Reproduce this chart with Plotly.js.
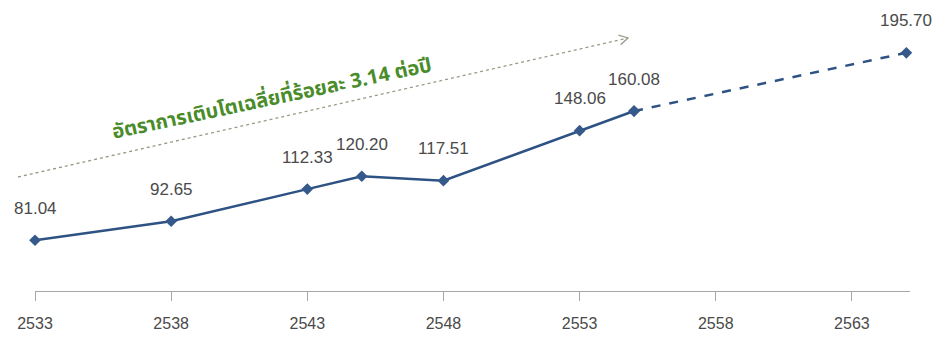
<!DOCTYPE html>
<html>
<head>
<meta charset="utf-8">
<script src="https://cdn.plot.ly/plotly-3.0.1.min.js"></script>
<style>
html,body{margin:0;padding:0;background:#fff;}
#chart{width:936px;height:338px;}
</style>
</head>
<body>
<div id="chart"></div>
<script>
// Actual data (Buddhist Era years)
var years = [2533, 2538, 2543, 2545, 2548, 2553, 2555];
var values = [81.04, 92.65, 112.33, 120.20, 117.51, 148.06, 160.08];
// Projection
var projYears = [2555, 2565];
var projValues = [160.08, 195.70];
// Labels
var labelYears = [2533, 2538, 2543, 2545, 2548, 2553, 2555, 2565];
var labelValues = [81.04, 92.65, 112.33, 120.20, 117.51, 148.06, 160.08, 195.70];
var tickYears = [2533, 2538, 2543, 2548, 2553, 2558, 2563];
var growthText = 'อัตราการเติบโตเฉลี่ยที่ร้อยละ 3.14 ต่อปี';

var W = 936, H = 338;
var M = {l: 35, r: 26, t: 0, b: 47};
var pw = W - M.l - M.r, ph = H - M.t - M.b;
function px(x) { return (x - M.l) / pw; }
function py(y) { return (H - M.b - y) / ph; }

var lineColor = '#2e5283';
var traces = [
  {
    x: years, y: values, type: 'scatter', mode: 'lines+markers',
    line: {color: lineColor, width: 2.5},
    marker: {symbol: 'diamond', size: 9, color: '#35598a'},
    hoverinfo: 'x+y', cliponaxis: false
  },
  {
    x: projYears, y: projValues, type: 'scatter', mode: 'lines+markers',
    line: {color: lineColor, width: 2.5, dash: 'dash'},
    marker: {symbol: 'diamond', size: 9, color: '#35598a'},
    hoverinfo: 'x+y', cliponaxis: false
  }
];

var annotations = labelYears.map(function (yr, i) {
  return {
    x: yr, y: labelValues[i], xref: 'x', yref: 'y',
    text: labelValues[i].toFixed(2), showarrow: false,
    yshift: 32,
    font: {family: 'Liberation Sans, Arial, sans-serif', size: 17, color: '#4a4a4a'}
  };
});
annotations.push({
  xref: 'paper', yref: 'paper', x: px(272), y: py(99),
  xanchor: 'center', yanchor: 'middle',
  text: '<b>' + growthText + '</b>', showarrow: false, textangle: -12,
  font: {family: 'Noto Sans Thai, Noto Sans, sans-serif', size: 20, color: '#4a8c2a'}
});

// arrow (dotted) geometry in pixels
var ax0 = 18, ay0 = 177, ax1 = 628, ay1 = 38;
var dx = ax1 - ax0, dy = ay1 - ay0, len = Math.sqrt(dx*dx + dy*dy);
var ux = -dx/len, uy = -dy/len, L = 10, c = Math.cos(Math.PI/6), s = Math.sin(Math.PI/6);
var h1x = ax1 + L*(ux*c - uy*s), h1y = ay1 + L*(ux*s + uy*c);
var h2x = ax1 + L*(ux*c + uy*s), h2y = ay1 + L*(-ux*s + uy*c);

var shapes = [
  {type: 'line', xref: 'paper', yref: 'paper', x0: px(ax0), y0: py(ay0), x1: px(ax1), y1: py(ay1),
   line: {color: '#9a9a86', width: 1.3, dash: 'dot'}},
  {type: 'path', xref: 'paper', yref: 'paper',
   path: 'M' + px(h1x) + ',' + py(h1y) + ' L' + px(ax1) + ',' + py(ay1) + ' L' + px(h2x) + ',' + py(h2y),
   line: {color: '#9a9a86', width: 1.3}}
];

var layout = {
  width: W, height: H,
  margin: M,
  paper_bgcolor: '#ffffff', plot_bgcolor: '#ffffff',
  showlegend: false,
  xaxis: {
    range: [2533, 2533 + pw/27.23],
    tickvals: tickYears, ticktext: tickYears.map(String),
    showgrid: false, zeroline: false,
    showline: true, linecolor: '#a6a6a6', linewidth: 1,
    ticks: 'outside', ticklen: 9, tickcolor: '#a6a6a6', tickwidth: 1,
    ticklabelstandoff: 9,
    tickfont: {family: 'Liberation Sans, Arial, sans-serif', size: 16, color: '#4a4a4a'}
  },
  yaxis: {range: [50, 228], visible: false, showgrid: false, zeroline: false},
  annotations: annotations,
  shapes: shapes
};

Plotly.newPlot('chart', traces, layout, {displayModeBar: false, staticPlot: true});
</script>
</body>
</html>
